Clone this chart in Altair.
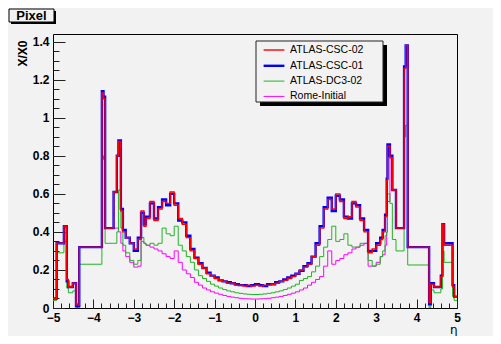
import altair as alt
import pandas as pd

# bin edges in eta (shared by all four histograms)
EDGES = [-5.0, -4.91, -4.73, -4.66, -4.62, -4.51, -4.43, -4.35, -3.79, -3.75, -3.71, -3.50,
         -3.42, -3.38, -3.32, -3.27, -3.2, -3.1, -3.0, -2.9, -2.82, -2.75, -2.7, -2.6, -2.5,
         -2.4, -2.3, -2.2, -2.1, -2.0, -1.9, -1.8, -1.7, -1.6, -1.5, -1.4, -1.3, -1.2, -1.1,
         -1.0, -0.9, -0.8, -0.7, -0.6, -0.5, -0.4, -0.3, -0.2, -0.1, 0.0, 0.1, 0.2, 0.3, 0.4,
         0.5, 0.6, 0.7, 0.8, 0.9, 1.0, 1.1, 1.2, 1.3, 1.4, 1.5, 1.6, 1.7, 1.8, 1.9, 2.0, 2.1,
         2.2, 2.3, 2.4, 2.5, 2.6, 2.7, 2.8, 2.9, 3.0, 3.1, 3.16, 3.22, 3.26, 3.28, 3.34, 3.40,
         3.49, 3.69, 3.73, 3.78, 4.31, 4.35, 4.43, 4.60, 4.64, 4.68, 4.89, 4.93, 5.0]

CSC02 = [0.05, 0.34, 0.43, 0.15, 0.11, 0.13, 0.015, 0.32, 1.13, 1.10,
         0.42, 0.61, 0.80, 0.875, 0.51, 0.40, 0.37, 0.34, 0.31, 0.36,
         0.51, 0.43, 0.47, 0.56, 0.46, 0.52, 0.56, 0.55, 0.61, 0.54,
         0.47, 0.44, 0.37, 0.30, 0.26, 0.23, 0.21, 0.18, 0.17, 0.155,
         0.145, 0.14, 0.13, 0.13, 0.12, 0.12, 0.115, 0.12, 0.115, 0.12,
         0.115, 0.12, 0.12, 0.125, 0.13, 0.14, 0.145, 0.155, 0.165, 0.18,
         0.20, 0.215, 0.23, 0.27, 0.33, 0.42, 0.52, 0.57, 0.52, 0.60,
         0.56, 0.47, 0.48, 0.56, 0.53, 0.46, 0.40, 0.29, 0.31, 0.33,
         0.36, 0.40, 0.48, 0.67, 0.85, 0.79, 0.62, 0.42, 1.26, 1.38,
         0.32, 0.03, 0.125, 0.11, 0.165, 0.44, 0.33, 0.11, 0.06]

CSC01 = [0.05, 0.34, 0.43, 0.14, 0.11, 0.13, 0.01, 0.32, 1.14, 1.11,
         0.42, 0.61, 0.80, 0.88, 0.52, 0.41, 0.37, 0.34, 0.30, 0.37,
         0.50, 0.44, 0.48, 0.55, 0.47, 0.53, 0.57, 0.54, 0.60, 0.55,
         0.46, 0.45, 0.38, 0.31, 0.265, 0.235, 0.21, 0.185, 0.17, 0.16,
         0.145, 0.14, 0.135, 0.13, 0.125, 0.12, 0.12, 0.115, 0.12, 0.125,
         0.12, 0.115, 0.125, 0.125, 0.135, 0.14, 0.15, 0.16, 0.17, 0.18,
         0.195, 0.22, 0.235, 0.27, 0.34, 0.43, 0.53, 0.58, 0.51, 0.59,
         0.57, 0.48, 0.47, 0.55, 0.54, 0.47, 0.41, 0.30, 0.30, 0.34,
         0.37, 0.41, 0.49, 0.68, 0.86, 0.80, 0.62, 0.42, 1.27, 1.38,
         0.32, 0.02, 0.13, 0.11, 0.17, 0.44, 0.34, 0.12, 0.06]

DC302 = [0.04, 0.29, 0.35, 0.105, 0.08, 0.09, 0.0, 0.23, 0.80, 0.78,
         0.34, 0.34, 0.40, 0.62, 0.42, 0.33, 0.29, 0.25, 0.23, 0.25,
         0.37, 0.34, 0.33, 0.34, 0.33, 0.34, 0.42, 0.39, 0.38, 0.43,
         0.33, 0.30, 0.27, 0.24, 0.20, 0.17, 0.155, 0.14, 0.125, 0.115,
         0.105, 0.097, 0.09, 0.085, 0.08, 0.077, 0.074, 0.072, 0.071, 0.071,
         0.072, 0.074, 0.077, 0.08, 0.085, 0.09, 0.097, 0.105, 0.115, 0.125,
         0.145, 0.155, 0.165, 0.19, 0.22, 0.27, 0.32, 0.36, 0.43, 0.35,
         0.36, 0.39, 0.33, 0.32, 0.32, 0.34, 0.34, 0.25, 0.22, 0.23,
         0.27, 0.30, 0.38, 0.40, 0.60, 0.55, 0.36, 0.30, 0.90, 0.96,
         0.226, 0.0, 0.095, 0.08, 0.10, 0.30, 0.24, 0.06, 0.04]

ROME = [0.05, 0.34, 0.43, 0.15, 0.11, 0.13, 0.015, 0.32, 1.13, 1.10,
        0.42, 0.42, 0.42, 0.40, 0.34, 0.30, 0.27, 0.24, 0.215, 0.22,
        0.35, 0.34, 0.33, 0.32, 0.31, 0.30, 0.285, 0.27, 0.26, 0.30,
        0.24, 0.20, 0.18, 0.16, 0.135, 0.12, 0.105, 0.095, 0.085, 0.078,
        0.072, 0.066, 0.061, 0.057, 0.054, 0.051, 0.049, 0.048, 0.047, 0.047,
        0.048, 0.049, 0.051, 0.054, 0.057, 0.061, 0.066, 0.072, 0.078, 0.085,
        0.095, 0.105, 0.12, 0.135, 0.15, 0.165, 0.22, 0.30, 0.23, 0.25,
        0.26, 0.28, 0.29, 0.31, 0.32, 0.33, 0.34, 0.22, 0.22, 0.24,
        0.27, 0.28, 0.33, 0.40, 0.56, 0.79, 0.62, 0.42, 1.26, 1.38,
        0.32, 0.03, 0.125, 0.11, 0.165, 0.44, 0.33, 0.11, 0.06]

SERIES = ["ATLAS-CSC-02", "ATLAS-CSC-01", "ATLAS-DC3-02", "Rome-Initial"]
COLORS = ["#ff0000", "#0000ff", "#22b422", "#ff00ff"]
WIDTHS = [1.4, 2.4, 1.0, 1.0]
X_TICKS = [-5, -4, -3, -2, -1, 0, 1, 2, 3, 4, 5]
Y_TICKS = [0, 0.2, 0.4, 0.6, 0.8, 1.0, 1.2, 1.4]
X_MINOR = [round(-5 + 0.2 * i, 2) for i in range(51)]
Y_MINOR = [round(0.05 * i, 2) for i in range(29)]

rows = []
for name, vals in zip(SERIES, [CSC02, CSC01, DC302, ROME]):
    for i, v in enumerate(vals):
        rows.append({"series": name, "eta": EDGES[i], "val": v})
    rows.append({"series": name, "eta": EDGES[-1], "val": vals[-1]})
df = pd.DataFrame(rows)
deco = pd.DataFrame({"d": [0]})

W, H = 404, 274
FONT = "Liberation Sans"
BG = "#f2f2f2"
xs = alt.Scale(domain=[-5, 5], nice=False, zero=False)
ys = alt.Scale(domain=[0, 1.44], nice=False, zero=True)

ax_x_lab = alt.Axis(orient="bottom", values=X_TICKS, tickSize=0, domain=False, grid=False,
                    labelFont=FONT, labelFontWeight="bold", labelFontSize=12, labelColor="#000",
                    labelPadding=4, labelFlush=False, labelOverlap=False,
                    title="η", titleX=W, titleY=25, titleAlign="right", titleBaseline="alphabetic",
                    titleFont="DejaVu Sans", titleFontWeight="normal", titleFontSize=12, titleColor="#000")
ax_y_lab = alt.Axis(orient="left", values=Y_TICKS, format="~g", tickSize=0, domain=False, grid=False,
                    labelFont=FONT, labelFontWeight="bold", labelFontSize=12, labelColor="#000",
                    labelPadding=4, labelFlush=False, labelOverlap=False,
                    title="X/X0", titleX=-31, titleY=6, titleAngle=270, titleAlign="right",
                    titleBaseline="middle", titleFont=FONT, titleFontWeight="bold", titleFontSize=12,
                    titleColor="#000")


def tick_axes(xvals, yvals, xlen, ylen):
    ax = alt.Axis(orient="bottom", values=xvals, tickSize=xlen, offset=-xlen, labels=False,
                  domain=False, grid=False, title=None, tickColor="#222", tickWidth=1)
    ay = alt.Axis(orient="left", values=yvals, tickSize=ylen, offset=-ylen, labels=False,
                  domain=False, grid=False, title=None, tickColor="#222", tickWidth=1)
    return ax, ay


legend = alt.Legend(orient="none", legendX=213, legendY=8.5, title=None, padding=0,
                    symbolType="M-1.6,0L1.6,0", symbolSize=169, rowPadding=2.3, labelOffset=8,
                    labelFont=FONT, labelFontSize=10.5, labelColor="#000",
                    fillColor=None, strokeColor=None)
col = alt.Color("series:N", scale=alt.Scale(domain=SERIES, range=COLORS), legend=legend)
sw = alt.StrokeWidth("series:N", scale=alt.Scale(type="ordinal", domain=SERIES, range=WIDTHS),
                     legend=legend)


def lines(name, axes):
    return alt.Chart(df).transform_filter(alt.datum.series == name).mark_line(
        interpolate="step-after", clip=True).encode(
        x=alt.X("eta:Q", scale=xs, axis=ax_x_lab if axes else None),
        y=alt.Y("val:Q", scale=ys, axis=ax_y_lab if axes else None),
        color=col, strokeWidth=sw)


def ticks(ax, ay):
    return alt.Chart(df).mark_point(opacity=0).encode(
        x=alt.X("eta:Q", scale=xs, axis=ax), y=alt.Y("val:Q", scale=ys, axis=ay))


def rect(x1, x2, y1, y2, **kw):
    return alt.Chart(deco).mark_rect(**kw).encode(
        x=alt.value(x1), x2=alt.value(x2), y=alt.value(y1), y2=alt.value(y2))


leg_shadow = rect(207, 334, 11, 72, color="#000")
leg_box = rect(203, 330, 7, 68, fill=BG, stroke="#222", strokeWidth=1)
tit_shadow = rect(-42, 3, -23, -10, color="#000")
tit_box = rect(-44, 1, -25, -12, fill=BG, stroke="#000", strokeWidth=1)
tit_text = alt.Chart(deco).mark_text(font=FONT, fontWeight="bold", fontSize=13, color="#000",
                                     align="center", baseline="middle").encode(
    x=alt.value(-21.5), y=alt.value(-18), text=alt.value("Pixel"))

maj = tick_axes(X_TICKS, Y_TICKS, 9, 12)
mnr = tick_axes(X_MINOR, Y_MINOR, 5, 6)

chart = alt.layer(
    leg_shadow, leg_box,
    lines("Rome-Initial", True),
    lines("ATLAS-DC3-02", False),
    lines("ATLAS-CSC-01", False),
    lines("ATLAS-CSC-02", False),
    ticks(*maj), ticks(*mnr),
    tit_shadow, tit_box, tit_text,
).resolve_axis(x="independent", y="independent").properties(
    width=W, height=H,
    padding={"left": 45, "top": 26, "right": 36, "bottom": 28},
    autosize=alt.AutoSizeParams(type="none"),
).configure(background=BG).configure_view(stroke="#000", strokeWidth=1)

chart.save("out.html", embed_options={"renderer": "svg", "actions": False})
